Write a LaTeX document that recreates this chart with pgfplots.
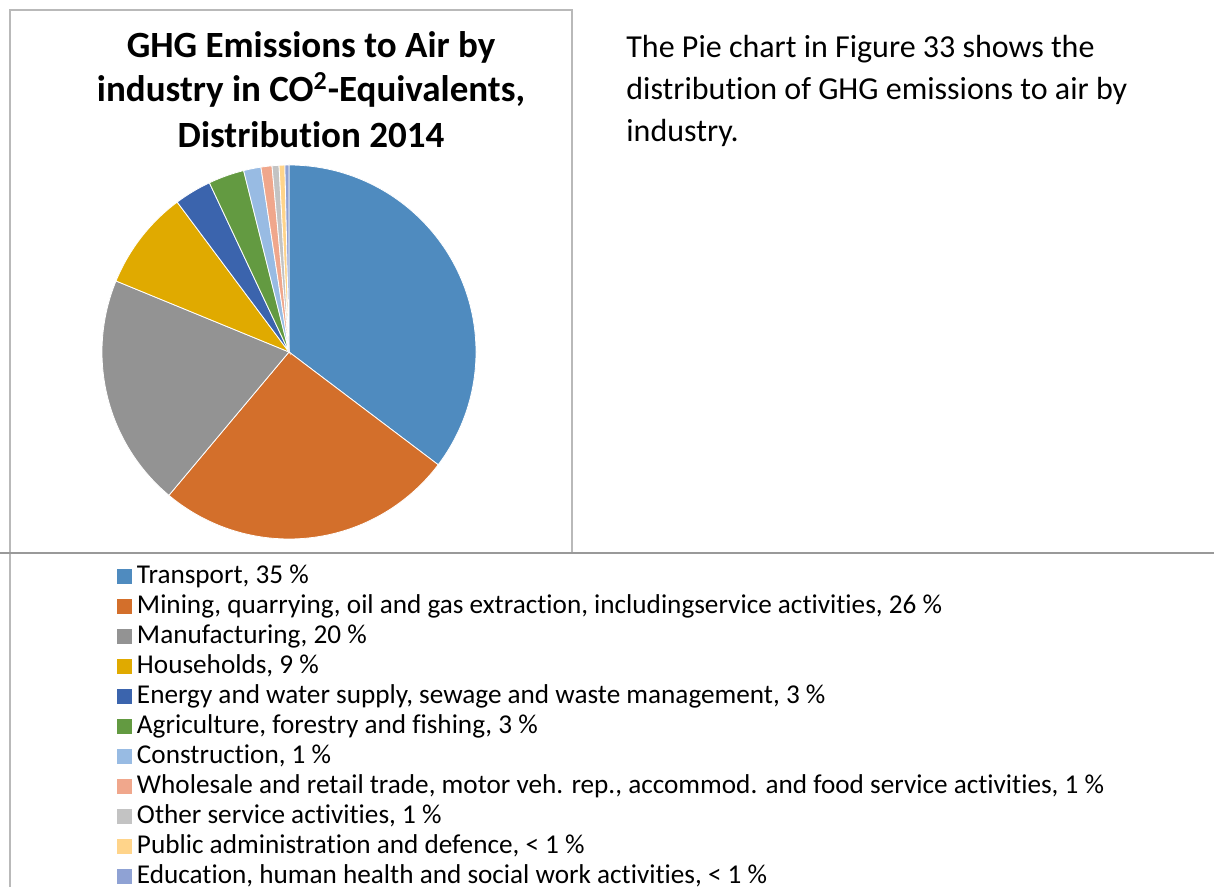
\documentclass[border=0pt]{standalone}
\usepackage{fontspec}
\setmainfont{Carlito}[Ligatures={NoCommon}]
\usepackage{pgfplots}
\usepackage{pgfplotstable}
\pgfplotsset{compat=1.18}

\definecolor{c1}{HTML}{4F8BBF}
\definecolor{c2}{HTML}{D36F2B}
\definecolor{c3}{HTML}{939393}
\definecolor{c4}{HTML}{E0AA00}
\definecolor{c5}{HTML}{3B64AD}
\definecolor{c6}{HTML}{639A41}
\definecolor{c7}{HTML}{98BBE3}
\definecolor{c8}{HTML}{F0A78C}
\definecolor{c9}{HTML}{C3C3C3}
\definecolor{c10}{HTML}{FFD48A}
\definecolor{c11}{HTML}{8FA2D4}

% share of GHG emissions (%), clockwise from 12 o'clock
\pgfplotstableread[col sep=comma]{
sector,value
Transport,35.3
Mining,25.8
Manufacturing,20.1
Households,8.6
Energy,3.2
Agriculture,3.1
Construction,1.5
Wholesale,0.95
Other,0.6
Public,0.5
Education,0.35
}\piedata

\begin{document}
\begin{tikzpicture}
% frames
\draw[gray!55, line width=0.6pt] (5pt,167pt) -- (5pt,438.5pt) -- (286pt,438.5pt) -- (286pt,167pt);
\draw[gray!55, line width=0.6pt] (5pt,167pt) -- (5pt,0pt);
\draw[gray!80, line width=0.9pt] (0pt,167pt) -- (607pt,167pt);

% title
\node[anchor=base, font=\fontsize{18.5}{22}\selectfont\bfseries, inner sep=0pt] at (155.5pt,414.5pt) {GHG Emissions to Air by};
\node[anchor=base, font=\fontsize{18.5}{22}\selectfont\bfseries, inner sep=0pt] at (155.5pt,392.5pt) {industry in CO\textsuperscript{2}-Equivalents,};
\node[anchor=base, font=\fontsize{18.5}{22}\selectfont\bfseries, inner sep=0pt] at (155.5pt,369.5pt) {Distribution 2014};

% side text
\node[anchor=base west, font=\fontsize{16}{21}\selectfont, inner sep=0pt] at (313pt,414.5pt) {The Pie chart in Figure 33 shows the};
\node[anchor=base west, font=\fontsize{16}{21}\selectfont, inner sep=0pt] at (313pt,393.5pt) {distribution of GHG emissions to air by};
\node[anchor=base west, font=\fontsize{16}{21}\selectfont, inner sep=0pt] at (313pt,372.5pt) {industry.};

\begin{axis}[
  at={(144.5pt,267.5pt)}, anchor=center,
  x=93.5pt, y=93.5pt,
  xmin=-1, xmax=1, ymin=-1, ymax=1,
  hide axis, clip=false,
  legend cell align=left,
  legend image code/.code={\fill[#1] (0pt,-3.75pt) rectangle (7.5pt,3.75pt);},
  legend style={at={(0.0401,-0.0642)}, anchor=north west, draw=none, fill=none,
    font=\fontsize{13.6}{15}\selectfont, inner sep=0pt, outer sep=0pt,
    row sep=2pt, column sep=2.5pt,
    nodes={inner sep=0pt, text height=10pt, text depth=3pt}},
]
\pgfplotsextra{%
  \gdef\cum{0}%
  \pgfplotstableforeachcolumnelement{value}\of\piedata\as\v{%
    \edef\col{c\the\numexpr\pgfplotstablerow+1\relax}%
    \pgfmathsetmacro\a{90-3.6*\cum}%
    \pgfmathsetmacro\b{90-3.6*(\cum+\v)}%
    \fill[fill=\col, draw=white, line width=0.4pt] (axis cs:0,0) -- (axis cs:{cos(\a)},{sin(\a)}) arc[start angle=\a, end angle=\b, radius=93.5pt] -- cycle;
    \pgfmathsetmacro\n{\cum+\v}%
    \xdef\cum{\n}%
  }%
}
\addlegendimage{fill=c1, draw=none}\addlegendentry{Transport, 35 \%}
\addlegendimage{fill=c2, draw=none}\addlegendentry{Mining, quarrying, oil and gas extraction, includingservice activities, 26 \%}
\addlegendimage{fill=c3, draw=none}\addlegendentry{Manufacturing, 20 \%}
\addlegendimage{fill=c4, draw=none}\addlegendentry{Households, 9 \%}
\addlegendimage{fill=c5, draw=none}\addlegendentry{Energy and water supply, sewage and waste management, 3 \%}
\addlegendimage{fill=c6, draw=none}\addlegendentry{Agriculture, forestry and fishing, 3 \%}
\addlegendimage{fill=c7, draw=none}\addlegendentry{Construction, 1 \%}
\addlegendimage{fill=c8, draw=none}\addlegendentry{Wholesale and retail trade, motor veh. rep., accommod. and food service activities, 1 \%}
\addlegendimage{fill=c9, draw=none}\addlegendentry{Other service activities, 1 \%}
\addlegendimage{fill=c10, draw=none}\addlegendentry{Public administration and defence, < 1 \%}
\addlegendimage{fill=c11, draw=none}\addlegendentry{Education, human health and social work activities, < 1 \%}
\end{axis}
\pgfresetboundingbox
\path[use as bounding box] (0pt,0pt) rectangle (607pt,443.5pt);
\end{tikzpicture}
\end{document}
